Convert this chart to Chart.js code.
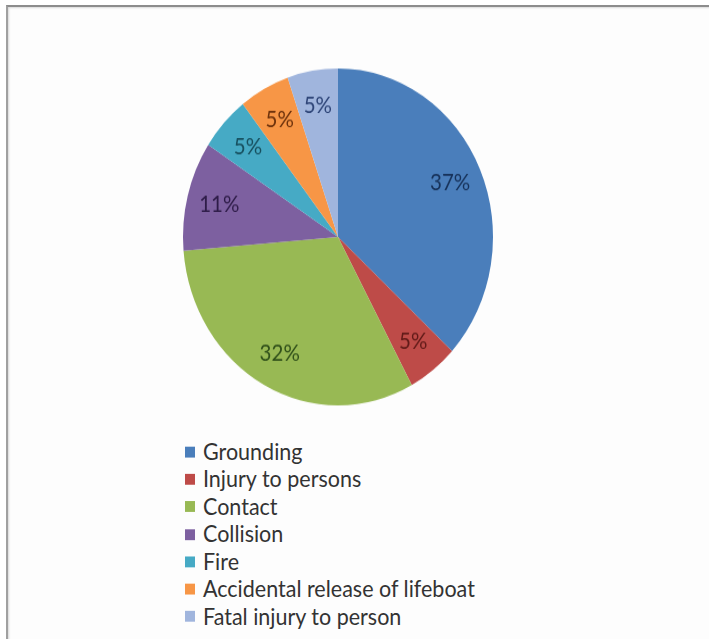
<!DOCTYPE html>
<html>
<head>
<meta charset="utf-8">
<script src="https://cdn.jsdelivr.net/npm/chart.js@4"></script>
<style>
  html,body{margin:0;padding:0;background:#fff;}
  body{width:709px;height:639px;position:relative;overflow:hidden;font-family:Lato,"Open Sans",sans-serif;}
  #frame{position:absolute;left:6px;top:5px;width:720px;height:700px;border-top:2px solid #8c8c8c;border-left:2px solid #a0a0a0;box-shadow:inset 1px 1px 2px #d8d8d8;background:#fdfdfd;}
  #wrap{position:absolute;left:177.5px;top:62.6px;width:320px;height:320px;transform:scaleY(1.087);transform-origin:0 0;}
  #legend{position:absolute;left:185px;top:438px;margin:0;padding:0;list-style:none;transform:scaleY(1.087);transform-origin:0 0;}
  #legend li{height:25.3px;line-height:25.3px;font-size:21.5px;color:#333;white-space:nowrap;display:flex;align-items:center;}
  #legend span.box{display:inline-block;width:10px;height:10px;margin-right:8px;}
</style>
</head>
<body>
<div id="frame"></div>
<div id="wrap"><canvas id="c" width="320" height="320"></canvas></div>
<ul id="legend"></ul>
<script>
const categories = ["Grounding","Injury to persons","Contact","Collision","Fire","Accidental release of lifeboat","Fatal injury to person"];
const counts = [7, 1, 6, 2, 1, 1, 1];
const percentLabels = ["37%","5%","32%","11%","5%","5%","5%"];
const sliceColors = ["#4A7EBB","#BE4B48","#98B954","#7D60A0","#46AAC5","#F79646","#A0B5DD"];
const labelColors = ["#17325A","#601A18","#30501A","#2E1C48","#17505F","#6E320C","#2E4578"];

const labelPlugin = {
  id: 'sliceLabels',
  afterDatasetsDraw(chart) {
    const ctx = chart.ctx;
    const meta = chart.getDatasetMeta(0);
    ctx.save();
    ctx.font = '20.5px Lato, "Open Sans", sans-serif';
    ctx.textAlign = 'center';
    ctx.textBaseline = 'middle';
    meta.data.forEach((arc, i) => {
      const p = arc.getProps(['x','y','startAngle','endAngle','outerRadius'], true);
      const mid = (p.startAngle + p.endAngle) / 2;
      const r = p.outerRadius * 0.79;
      ctx.fillStyle = labelColors[i];
      ctx.fillText(percentLabels[i], p.x + Math.cos(mid) * r, p.y + Math.sin(mid) * r);
    });
    ctx.restore();
  }
};

const chart = new Chart(document.getElementById('c'), {
  type: 'pie',
  data: {
    labels: categories,
    datasets: [{ data: counts, backgroundColor: sliceColors, borderWidth: 0, hoverOffset: 0 }]
  },
  options: {
    responsive: false,
    animation: false,
    layout: { padding: 5 },
    events: [],
    plugins: { legend: { display: false }, tooltip: { enabled: false } }
  },
  plugins: [labelPlugin]
});

const items = Chart.overrides.pie.plugins.legend.labels.generateLabels(chart);
const ul = document.getElementById('legend');
items.forEach(it => {
  const li = document.createElement('li');
  const b = document.createElement('span');
  b.className = 'box';
  b.style.background = it.fillStyle;
  li.appendChild(b);
  li.appendChild(document.createTextNode(it.text));
  ul.appendChild(li);
});
</script>
</body>
</html>
